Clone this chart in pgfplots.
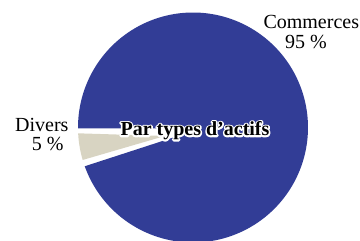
\documentclass[border=0pt]{standalone}
\usepackage{fontspec}
\setmainfont{Liberation Serif}
\usepackage{pgfplots}
\pgfplotsset{compat=1.18}
\definecolor{pieblue}{RGB}{50,61,150}
\definecolor{piebeige}{RGB}{216,212,194}
% values: Commerces 95 %, Divers 5 % (Divers slice = 3.6*5 = 18 deg)
\newcommand{\halo}[1]{\special{pdf:literal direct 1 Tr 3.2 w 1 j 1 1 1 RG}#1\special{pdf:literal direct 0 Tr 0.4 w 0 j 0 0 0 RG}}
\begin{document}
\begin{tikzpicture}
\begin{axis}[width=360bp, height=241bp, scale only axis,
  xmin=0, xmax=360, ymin=0, ymax=241, hide axis, clip=true]
% Commerces 95 % : 342 deg slice (centre 193,113.5 ; r=115)
\addplot[draw=none, fill=pieblue, domain=199.7:540.5, samples=240, variable=\t]
  ({193+115*cos(t)},{113.5+115*sin(t)}) -- (axis cs:201,112.5) -- cycle;
% Divers 5 % : 18 deg slice, slightly exploded
\addplot[draw=none, fill=piebeige, domain=182.9:196.4, samples=30, variable=\t]
  ({193+115*cos(t)},{113.5+115*sin(t)}) -- (axis cs:164.9,105) -- cycle;
\coordinate (ctext) at (axis cs:195,105.3);
\node[anchor=base west, inner sep=0, font=\fontsize{20bp}{20bp}\selectfont] at (axis cs:263.3,212.7) {Commerces};
\node[anchor=base west, inner sep=0, font=\fontsize{20bp}{20bp}\selectfont] at (axis cs:285,192.7) {95 \%};
\node[anchor=base west, inner sep=0, font=\fontsize{20bp}{20bp}\selectfont] at (axis cs:15,109.3) {Divers};
\node[anchor=base west, inner sep=0, font=\fontsize{20bp}{20bp}\selectfont] at (axis cs:31.7,90.3) {5 \%};
\end{axis}
\node[anchor=base, inner sep=0, text=white, font=\bfseries\fontsize{20bp}{20bp}\selectfont] at (ctext) {\halo{Par types d’actifs}};
\node[anchor=base, inner sep=0, text=black, font=\bfseries\fontsize{20bp}{20bp}\selectfont] at (ctext) {Par types d’actifs};
\pgfresetboundingbox
\useasboundingbox (0,0) rectangle (360bp,241bp);
\end{tikzpicture}
\end{document}
